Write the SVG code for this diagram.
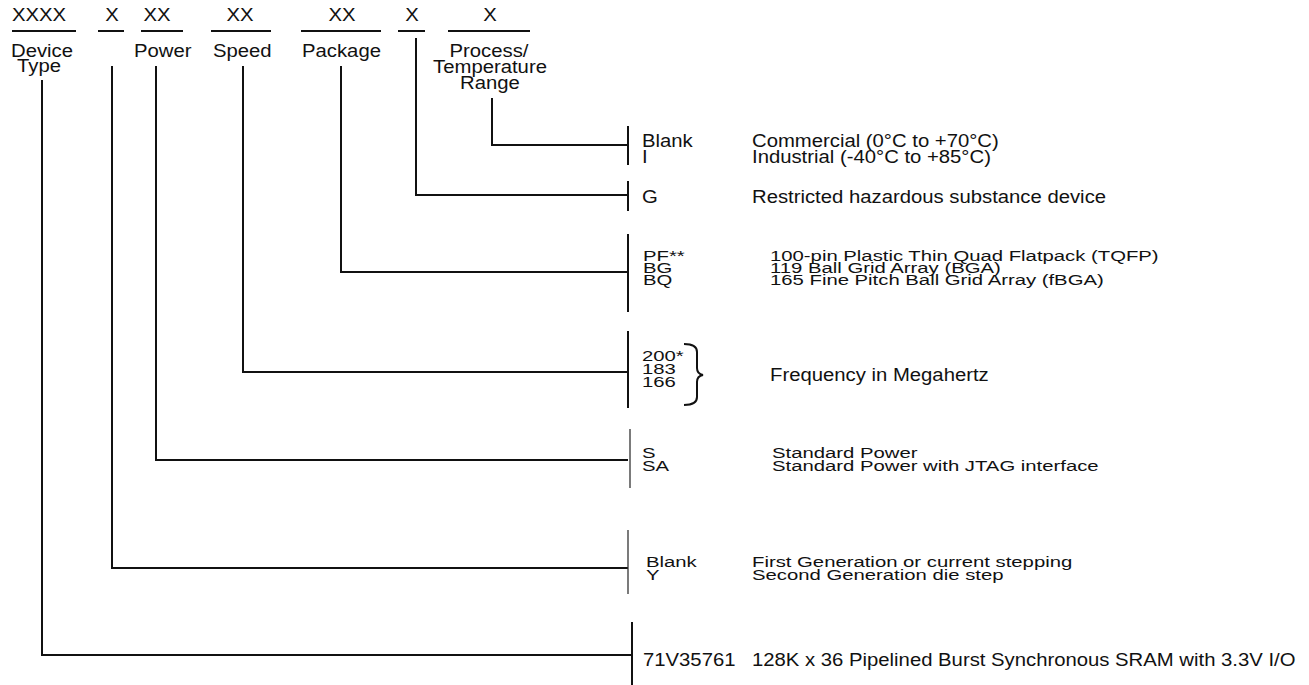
<svg xmlns="http://www.w3.org/2000/svg" width="1309" height="685" viewBox="0 0 1309 685">
<style>
text{font-family:"Liberation Sans",Arial,sans-serif;font-size:17.5px;fill:#111}
.t{font-size:15.5px}
.h{text-anchor:middle}
.ln{stroke:#111;stroke-width:2;fill:none}
.thin{stroke:#333;stroke-width:1.3;fill:none}
</style>
<rect width="1309" height="685" fill="#fff"/>
<g id="header">
<text transform="translate(12 21) scale(1.16 1)">XXXX</text>
<line class="ln" x1="12" y1="31" x2="76" y2="31"/>
<text class="h" transform="translate(112 21) scale(1.16 1)">X</text>
<line class="ln" x1="98" y1="31" x2="124" y2="31"/>
<text class="h" transform="translate(157 21) scale(1.16 1)">XX</text>
<line class="ln" x1="141" y1="31" x2="183" y2="31"/>
<text class="h" transform="translate(240 21) scale(1.16 1)">XX</text>
<line class="ln" x1="211" y1="31" x2="271" y2="31"/>
<text class="h" transform="translate(342 21) scale(1.16 1)">XX</text>
<line class="ln" x1="301" y1="31" x2="381" y2="31"/>
<text class="h" transform="translate(412 21) scale(1.16 1)">X</text>
<line class="ln" x1="398" y1="31" x2="425" y2="31"/>
<text class="h" transform="translate(490 21) scale(1.16 1)">X</text>
<line class="ln" x1="448" y1="31" x2="530" y2="31"/>
</g>
<g id="field-device"><text transform="translate(11 57) scale(1.16 1)">Device</text><text transform="translate(17 72) scale(1.16 1)">Type</text></g>
<g id="field-power"><text transform="translate(134 57) scale(1.16 1)">Power</text></g>
<g id="field-speed"><text transform="translate(213 57) scale(1.16 1)">Speed</text></g>
<g id="field-package"><text transform="translate(302 57) scale(1.16 1)">Package</text></g>
<g id="field-process"><text class="h" transform="translate(489 57) scale(1.16 1)">Process/</text><text class="h" transform="translate(490 73) scale(1.16 1)">Temperature</text><text class="h" transform="translate(490 89) scale(1.16 1)">Range</text></g>
<g id="connectors">
<polyline class="ln" points="492,98 492,145 628,145"/>
<polyline class="ln" points="416,38 416,195 628,195"/>
<polyline class="ln" points="341,66 341,272 628,272"/>
<polyline class="ln" points="243,66 243,372 628,372"/>
<polyline class="ln" points="156,66 156,460 628,460"/>
<polyline class="ln" points="112,66 112,568 628,568"/>
<polyline class="ln" points="42,80 42,655 632,655"/>
</g>
<g id="opt-process">
<line class="ln" x1="628" y1="126" x2="628" y2="165"/>
<text transform="translate(642 147) scale(1.16 1)">Blank</text><text transform="translate(642 163) scale(1.16 1)">I</text>
<text transform="translate(752 147) scale(1.16 1)">Commercial (0°C to +70°C)</text><text transform="translate(752 163) scale(1.16 1)">Industrial (-40°C to +85°C)</text>
</g>
<g id="opt-g">
<line class="ln" x1="628" y1="181" x2="628" y2="211"/>
<text transform="translate(642 203) scale(1.16 1)">G</text>
<text transform="translate(752 203) scale(1.16 1)">Restricted hazardous substance device</text>
</g>
<g id="opt-package">
<line class="ln" x1="628" y1="234" x2="628" y2="312"/>
<text class="t" transform="translate(643 261) scale(1.31 1)">PF**</text><text class="t" transform="translate(643 273) scale(1.31 1)">BG</text><text class="t" transform="translate(643 285) scale(1.31 1)">BQ</text>
<text class="t" transform="translate(770 261) scale(1.31 1)">100-pin Plastic Thin Quad Flatpack (TQFP)</text>
<text class="t" transform="translate(770 273) scale(1.31 1)">119 Ball Grid Array (BGA)</text>
<text class="t" transform="translate(770 285) scale(1.31 1)">165 Fine Pitch Ball Grid Array (fBGA)</text>
</g>
<g id="opt-speed">
<line class="ln" x1="628" y1="331" x2="628" y2="408"/>
<text class="t" transform="translate(642 361) scale(1.31 1)">200*</text><text class="t" transform="translate(642 374) scale(1.31 1)">183</text><text class="t" transform="translate(642 387) scale(1.31 1)">166</text>
<path class="ln" d="M684,344 Q697,344 697,352 L697,368 Q697,374 703,375 Q697,376 697,382 L697,397 Q697,405 684,405"/>
<text transform="translate(770 381) scale(1.16 1)">Frequency in Megahertz</text>
</g>
<g id="opt-power">
<line class="thin" x1="630" y1="429" x2="630" y2="488"/>
<text class="t" transform="translate(642 458) scale(1.31 1)">S</text><text class="t" transform="translate(642 471) scale(1.31 1)">SA</text>
<text class="t" transform="translate(772 458) scale(1.31 1)">Standard Power</text>
<text class="t" transform="translate(772 471) scale(1.31 1)">Standard Power with JTAG interface</text>
</g>
<g id="opt-stepping">
<line class="thin" x1="628" y1="530" x2="628" y2="594"/>
<text class="t" transform="translate(646 567) scale(1.31 1)">Blank</text><text class="t" transform="translate(646 580) scale(1.31 1)">Y</text>
<text class="t" transform="translate(752 567) scale(1.31 1)">First Generation or current stepping</text>
<text class="t" transform="translate(752 580) scale(1.31 1)">Second Generation die step</text>
</g>
<g id="opt-device">
<line class="ln" x1="632" y1="622" x2="632" y2="685"/>
<text transform="translate(643 666) scale(1.16 1)">71V35761</text>
<text transform="translate(752 666) scale(1.16 1)">128K x 36 Pipelined Burst Synchronous SRAM with 3.3V I/O</text>
</g>
</svg>
